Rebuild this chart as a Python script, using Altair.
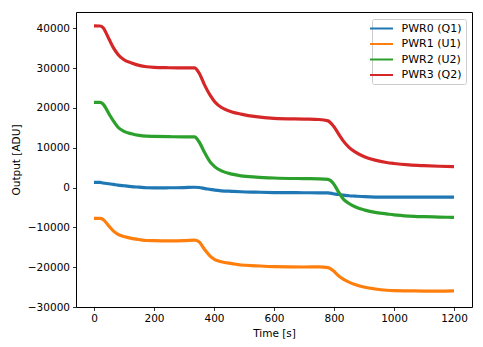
import altair as alt
import pandas as pd

times = [0, 20, 30, 50, 65, 80, 100, 125, 150, 175, 200, 250, 300, 335, 350, 370, 387, 403, 425, 460,
         490, 540, 600, 700, 750, 780, 798, 815, 832, 850, 870, 903, 937, 975, 1000, 1050, 1100, 1150, 1200]

pwr0 = [1300, 1280, 1150, 950, 800, 620, 450, 250, 100, -50, -80, -50, 0, 80, 20, -250, -450, -650, -820, -950,
        -1050, -1150, -1250, -1300, -1320, -1350, -1550, -1750, -1900, -2050, -2150, -2300, -2380, -2400, -2420,
        -2420, -2420, -2420, -2420]
pwr1 = [-7750, -7750, -8000, -9700, -10950, -11750, -12300, -12750, -13050, -13300, -13350, -13400, -13350,
        -13200, -13600, -15700, -17200, -18100, -18650, -19100, -19450, -19650, -19850, -19950, -19900, -20100,
        -20900, -22150, -23050, -23750, -24350, -25050, -25480, -25800, -25900, -25950, -26000, -26000, -25950]
pwr2 = [21400, 21380, 21000, 18500, 16700, 15150, 14100, 13500, 13100, 12900, 12850, 12780, 12730, 12730,
        11500, 8600, 6450, 5200, 4200, 3370, 2950, 2620, 2400, 2250, 2200, 2080, 1050, -1100, -2950, -4000,
        -4830, -5660, -6240, -6600, -6850, -7150, -7300, -7400, -7500]
pwr3 = [40600, 40580, 40200, 37300, 35100, 33450, 32100, 31300, 30700, 30350, 30200, 30100, 30050, 30050,
        28800, 25550, 23200, 21500, 20100, 19000, 18450, 17800, 17400, 17200, 17100, 16750, 15450, 13500,
        11600, 10100, 8950, 7700, 6900, 6300, 6050, 5700, 5500, 5350, 5250]

series_names = ["PWR0 (Q1)", "PWR1 (U1)", "PWR2 (U2)", "PWR3 (Q2)"]
series_values = [pwr0, pwr1, pwr2, pwr3]
colors = ["#1f77b4", "#ff7f0e", "#2ca02c", "#d62728"]

x_ticks = [0, 200, 400, 600, 800, 1000, 1200]
y_ticks = [-30000, -20000, -10000, 0, 10000, 20000, 30000, 40000]

rows = []
for name, vals in zip(series_names, series_values):
    for t, v in zip(times, vals):
        rows.append({"Time": t, "Output": v, "Series": name})
df = pd.DataFrame(rows)

FONT = "DejaVu Sans"

chart = alt.Chart(df).mark_line(strokeWidth=3.2, interpolate="monotone").encode(
    x=alt.X("Time:Q", scale=alt.Scale(domain=[-60, 1260], nice=False, zero=False),
            axis=alt.Axis(title="Time [s]", values=x_ticks, format="d")),
    y=alt.Y("Output:Q", scale=alt.Scale(domain=[-30000, 44100], nice=False, zero=False),
            axis=alt.Axis(title="Output [ADU]", values=y_ticks, format="d")),
    color=alt.Color("Series:N", scale=alt.Scale(domain=series_names, range=colors),
                    legend=alt.Legend(title=None, orient="none", legendX=296, legendY=7,
                                      symbolType="M-3,0H3", symbolSize=58.8, symbolStrokeWidth=2,
                                      labelOffset=14.6, rowPadding=3.5, padding=4,
                                      strokeColor="#cccccc", cornerRadius=2, fillColor="white",
                                      labelFontSize=11, labelFont=FONT, labelColor="black")),
    order=alt.Order("Series:N"),
).properties(
    width=396, height=295,
    padding={"left": 76, "top": 12, "right": 11, "bottom": 40},
    autosize="none",
).configure_view(
    stroke="black", strokeWidth=1
).configure_axis(
    grid=False, domain=False, tickColor="black", tickSize=3.5, tickWidth=0.8,
    labelFont=FONT, labelFontSize=10.5, labelColor="black", labelPadding=3,
    titleFont=FONT, titleFontSize=10.5, titleColor="black", titleFontWeight="normal",
).configure_axisY(titlePadding=6)

chart.save("out.html", embed_options={"renderer": "svg", "actions": False})
